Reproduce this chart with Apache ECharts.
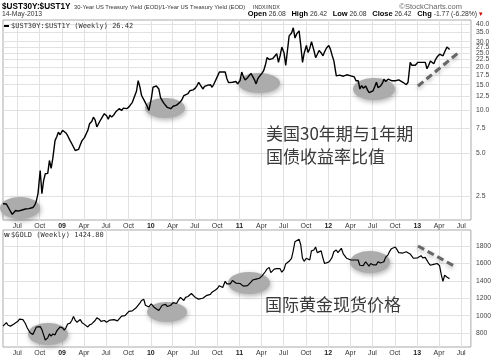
<!DOCTYPE html>
<html><head><meta charset="utf-8">
<script src="https://cdn.jsdelivr.net/npm/echarts@6/dist/echarts.min.js"></script>
<style>html,body{margin:0;padding:0;background:#fff}#c{width:494px;height:364px}</style>
</head><body><div id="c"></div>
<script>
// Weekly values, four per month from May 2008, last two in May 2013
const ratioValues = [
 2.21,2.23,2.20,2.25, 1.95,1.86,1.92,1.98, 1.96,2.02,1.99,2.05, 2.03,2.08,2.04,2.10,
 2.08,2.15,2.30,2.60, 3.77,2.60,3.20,3.58, 3.60,4.43,3.90,4.60, 6.10,6.50,6.98,6.70,
 7.20,7.00,6.90,6.60, 6.10,5.80,5.50,5.20, 5.13,5.30,5.70,6.10, 6.40,6.30,7.20,8.00,
 8.30,8.90,8.50,7.60, 8.20,8.60,9.00,9.40, 9.10,8.60,9.20,8.90, 9.30,9.70,9.50,10.20,
 9.90,10.30,10.00,10.20, 10.50,10.70,11.30,11.60, 13.50,16.00,14.50,12.60, 11.80,11.20,10.60,9.90,
 12.00,14.40,14.80,14.70, 14.00,12.20,11.60,11.10, 10.80,10.40,10.70,10.20, 10.60,10.30,10.80,11.10,
 11.40,11.90,12.60,12.30, 13.00,13.60,13.20,13.80, 14.20,14.80,15.60,14.90, 14.00,14.60,14.20,14.90,
 15.00,14.40,15.10,14.80, 17.30,18.40,18.30,18.40, 18.40,16.50,15.50,15.20, 15.60,15.20,15.80,15.20,
 16.00,18.40,17.00,16.20, 16.80,17.40,18.00,17.50, 16.30,15.20,16.50,17.20, 18.00,18.80,20.50,23.20,
 22.50,22.00,22.80,23.50, 24.70,21.50,24.00,27.50, 25.00,20.50,26.00,32.90, 34.50,37.50,31.80,34.00,
 35.70,28.00,21.50,25.00, 28.20,25.20,27.00,30.00, 26.00,23.20,24.50,26.00, 25.00,23.90,25.50,27.00,
 28.20,26.50,24.00,22.00, 17.30,17.80,17.50,17.80, 17.20,17.00,17.60,17.30, 17.30,16.80,17.00,16.00,
 16.00,14.00,14.80,14.20, 14.70,13.80,13.20,12.90, 13.60,14.50,15.60,14.30, 14.70,15.30,16.40,15.80,
 16.40,16.80,16.00,16.30, 16.00,15.60,16.20,15.70, 15.60,15.20,15.00,15.60, 21.50,20.50,21.00,20.50,
 21.50,21.00,21.50,21.80, 21.50,19.40,20.50,22.00, 21.50,21.00,22.50,23.50, 24.50,25.20,23.90,25.50,
 27.50,26.42
];
const goldValues = [
 880,885,920,890, 880,875,905,925, 935,960,975,955, 910,865,830,800,
 785,765,870,885, 875,840,780,720, 745,790,765,790, 780,825,845,870,
 860,835,860,905, 915,945,990,950, 925,935,955,920, 900,880,870,895,
 905,925,945,975, 960,935,935,945, 925,915,950,950, 955,945,940,955,
 995,1005,1000,990, 1050,1050,1055,1045, 1095,1115,1145,1175, 1190,1120,1110,1100,
 1135,1130,1090,1085, 1060,1075,1120,1115, 1130,1105,1105,1120, 1150,1160,1140,1175,
 1210,1225,1175,1210, 1220,1230,1255,1245, 1210,1190,1190,1180, 1200,1215,1230,1235,
 1245,1270,1275,1295, 1315,1345,1330,1325, 1395,1365,1350,1365, 1405,1390,1375,1385,
 1370,1360,1340,1320, 1345,1360,1385,1410, 1430,1420,1415,1430, 1455,1475,1505,1535,
 1555,1495,1490,1535, 1540,1530,1540,1500, 1530,1595,1600,1625, 1660,1745,1850,1830,
 1880,1815,1660,1625, 1660,1680,1640,1745, 1755,1790,1725,1710, 1745,1665,1600,1605,
 1615,1640,1670,1735, 1755,1725,1735,1775, 1710,1710,1660,1660, 1640,1660,1640,1660,
 1640,1580,1590,1575, 1620,1625,1570,1600, 1585,1585,1585,1620, 1605,1620,1620,1670,
 1700,1740,1770,1775, 1790,1760,1725,1710, 1720,1715,1735,1750, 1710,1695,1660,1660,
 1665,1660,1690,1665, 1670,1665,1605,1580, 1580,1590,1610,1600, 1575,1475,1395,1465,
 1445,1424.8
];
const weekDays = [3, 10, 17, 24];
const lastDate = '2013-05-14';
const ratioTicks = [2.5,5,7.5,10,12.5,15,17.5,20,22.5,25,27.5,30,35,40];
const goldTicks = [800,1000,1200,1400,1600,1800];
const quarterTicks = ['2008-07-01','2008-10-01','2009-01-01','2009-04-01','2009-07-01','2009-10-01',
 '2010-01-01','2010-04-01','2010-07-01','2010-10-01','2011-01-01','2011-04-01','2011-07-01','2011-10-01',
 '2012-01-01','2012-04-01','2012-07-01','2012-10-01','2013-01-01','2013-04-01','2013-07-01'];
const monthNames = ['Jan','Feb','Mar','Apr','May','Jun','Jul','Aug','Sep','Oct','Nov','Dec'];

function dateOf(i, n) {
  if (i === n - 1) return Date.parse(lastDate + 'T00:00:00Z');
  return Date.UTC(2008, 4 + Math.floor(i / 4), weekDays[i % 4]);
}
const ratioData = ratioValues.map((v, i) => [dateOf(i, ratioValues.length), v]);
const goldData = goldValues.map((v, i) => [dateOf(i, goldValues.length), v]);
const qTs = quarterTicks.map(s => Date.parse(s + 'T00:00:00Z'));

const xMin = Date.UTC(2008, 4, 3), xMax = Date.UTC(2013, 7, 10);
const gridLine = {show: true, lineStyle: {color: '#e2e2e2', width: 1}};
function xFmt(v) {
  const d = new Date(v);
  const m = d.getUTCMonth();
  if (m === 0) return '{y|' + String(d.getUTCFullYear()).slice(2) + '}';
  return monthNames[m];
}
const xLabel = {customValues: qTs, formatter: xFmt, fontSize: 7, color: '#333', margin: 3,
  fontFamily: 'Liberation Sans', rich: {y: {fontWeight: 'bold', fontSize: 7, color: '#222', fontFamily: 'Liberation Sans'}}};
const yLabelBase = {fontSize: 6.8, color: '#444', fontFamily: 'Liberation Sans', margin: 5};

const chart = echarts.init(document.getElementById('c'), null, {renderer: 'canvas'});
const txt = (x, y, text, style) => ({type: 'text', x, y, z: 10, style: Object.assign({text, fill: '#333', font: '7px Liberation Sans', textVerticalAlign: 'middle'}, style || {})});
const ell = (cx, cy, rx, ry) => ({type: 'ellipse', z: 1, shape: {cx, cy, rx, ry},
  style: {fill: '#acacac', shadowBlur: 5, shadowColor: 'rgba(0,0,0,0.3)', shadowOffsetX: 1, shadowOffsetY: 2}});
const dash = (x1, y1, x2, y2) => ({type: 'line', z: 3, shape: {x1, y1, x2, y2},
  style: {stroke: '#666', lineWidth: 3, lineDash: [7, 4], shadowBlur: 4, shadowColor: 'rgba(0,0,0,0.3)', shadowOffsetY: 2}});

chart.setOption({
  animation: false,
  backgroundColor: '#fff',
  grid: [
    {left: 3, right: 23, top: 20, bottom: 144, show: true, borderColor: '#aaa', borderWidth: 1, backgroundColor: 'transparent'},
    {left: 3, right: 23, top: 230, bottom: 17, show: true, borderColor: '#aaa', borderWidth: 1, backgroundColor: 'transparent'}
  ],
  xAxis: [
    {type: 'value', gridIndex: 0, min: xMin, max: xMax, axisLine: {show: false}, axisTick: {show: false, customValues: qTs},
     axisLabel: xLabel, splitLine: gridLine},
    {type: 'value', gridIndex: 1, min: xMin, max: xMax, axisLine: {show: false}, axisTick: {show: false, customValues: qTs},
     axisLabel: xLabel, splitLine: gridLine}
  ],
  yAxis: [
    {type: 'log', gridIndex: 0, position: 'right', min: 1.7, max: 42.5, logBase: 10,
     axisLine: {show: false}, axisTick: {show: false, customValues: ratioTicks},
     axisLabel: Object.assign({customValues: ratioTicks, formatter: v => Number(v).toFixed(1)}, yLabelBase),
     splitLine: gridLine},
    {type: 'value', gridIndex: 1, position: 'right', min: 640, max: 1985,
     axisLine: {show: false}, axisTick: {show: false, customValues: goldTicks},
     axisLabel: Object.assign({customValues: goldTicks, formatter: v => String(v)}, yLabelBase),
     splitLine: gridLine}
  ],
  series: [
    {type: 'line', xAxisIndex: 0, yAxisIndex: 0, data: ratioData, showSymbol: false, z: 5,
     lineStyle: {color: '#000', width: 1.4}},
    {type: 'line', xAxisIndex: 1, yAxisIndex: 1, data: goldData, showSymbol: false, z: 5,
     lineStyle: {color: '#000', width: 1.2}}
  ],
  graphic: [
    txt(2, 7, '$UST30Y:$UST1Y', {font: 'bold 8.2px Liberation Sans', fill: '#000'}),
    txt(74, 7, '30-Year US Treasury Yield (EOD)/1-Year US Treasury Yield (EOD)', {font: '5.8px Liberation Sans', fill: '#333'}),
    txt(253, 7.5, 'INDX/INDX', {font: '5.3px Liberation Sans', fill: '#333'}),
    txt(462, 7, '©StockCharts.com', {font: '7.5px Liberation Sans', fill: '#666', textAlign: 'right'}),
    txt(2, 14, '14-May-2013', {font: '6.8px Liberation Sans', fill: '#333'}),
    {type: 'text', x: 483, y: 14, z: 10, style: {text: '{b|Open} 26.08   {b|High} 26.42   {b|Low} 26.08   {b|Close} 26.42   {b|Chg} -1.77 (-6.28%) {r|▾}',
      font: '6.8px Liberation Sans', fill: '#333', textAlign: 'right', textVerticalAlign: 'middle',
      rich: {b: {font: 'bold 7.5px Liberation Sans', fill: '#000'}, r: {font: '7px Liberation Sans', fill: '#c00'}}}},
    {type: 'rect', z: 10, shape: {x: 4, y: 25, width: 5, height: 2}, style: {fill: '#000'}},
    txt(11, 26, '$UST30Y:$UST1Y (Weekly) 26.42', {font: '7px DejaVu Sans Mono', fill: '#333'}),
    txt(4, 235, 'W', {font: 'bold 6px Liberation Sans', fill: '#333'}),
    txt(11, 235, '$GOLD (Weekly) 1424.80', {font: '7px DejaVu Sans Mono', fill: '#333'}),
    ell(20, 208, 20, 11), ell(165, 108, 20, 10), ell(259, 83, 21, 10), ell(374, 89, 21, 11),
    dash(418, 86, 458, 53),
    ell(48, 334, 20, 11), ell(167, 312, 20, 10), ell(249, 283, 21, 11), ell(370, 262, 20, 11),
    dash(418, 246, 456, 267),
    txt(266, 134, '美国30年期与1年期', {font: '17px Noto Sans CJK SC', fill: '#3a3a3a'}),
    txt(266, 157, '国债收益率比值', {font: '17px Noto Sans CJK SC', fill: '#3a3a3a'}),
    txt(265, 305, '国际黄金现货价格', {font: '17px Noto Sans CJK SC', fill: '#3a3a3a'})
  ]
});
</script></body></html>
